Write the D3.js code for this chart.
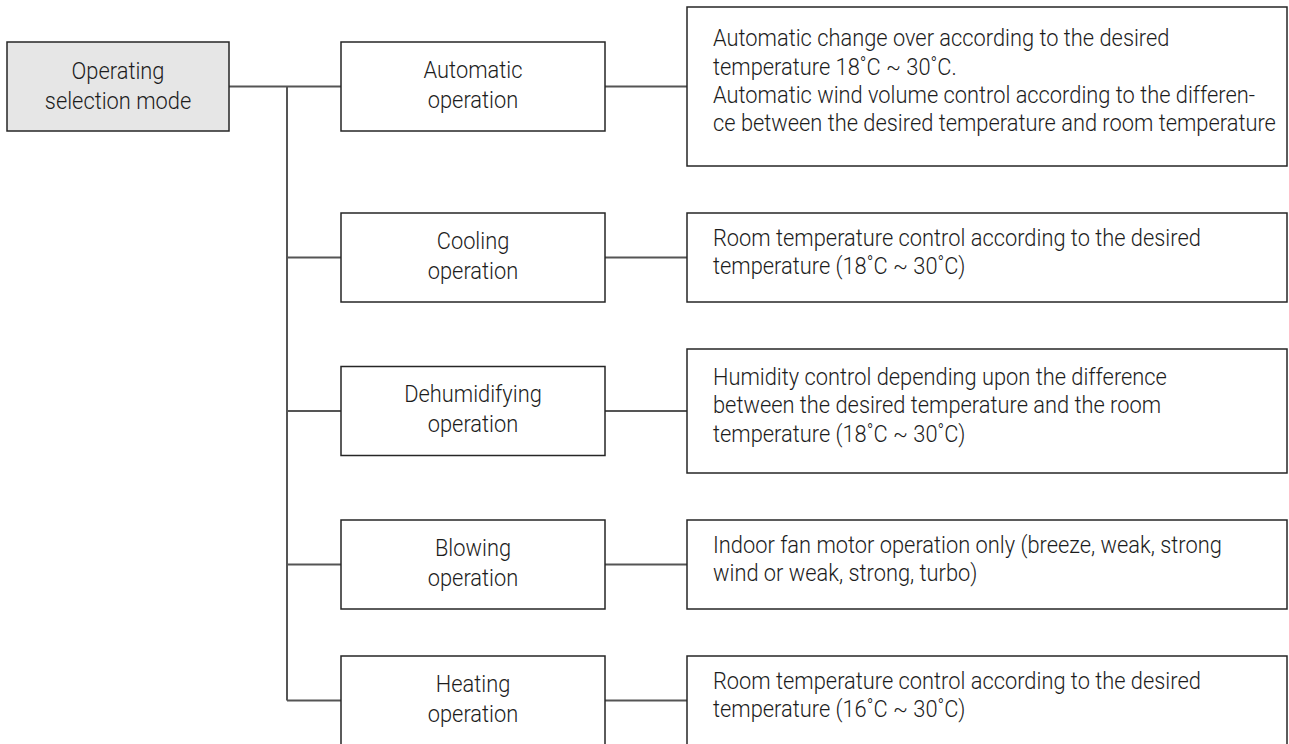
<!DOCTYPE html>
<html>
<head>
<meta charset="utf-8">
<script src="https://cdn.jsdelivr.net/npm/d3@7"></script>
<style>
  html, body { margin: 0; padding: 0; background: #fff; }
  svg { display: block; }
  text {
    font-family: Roboto, 'Liberation Sans', Arial, sans-serif;
    font-size: 23px;
    font-weight: 300;
    fill: #1c1c1c;
  }
</style>
</head>
<body>
<svg id="chart"></svg>
<script>
// chart content
const rootLabel = ['Operating', 'selection mode']

const modeLabels = [
  ['Automatic', 'operation'],
  ['Cooling', 'operation'],
  ['Dehumidifying', 'operation'],
  ['Blowing', 'operation'],
  ['Heating', 'operation']
]

const descLines = [
  [
    'Automatic change over according to the desired',
    'temperature 18˚C ~ 30˚C.',
    'Automatic wind volume control according to the differen-',
    'ce between the desired temperature and room temperature'
  ],
  [
    'Room temperature control according to the desired',
    'temperature (18˚C ~ 30˚C)'
  ],
  [
    'Humidity control depending upon the difference',
    'between the desired temperature and the room',
    'temperature (18˚C ~ 30˚C)'
  ],
  [
    'Indoor fan motor operation only (breeze, weak, strong',
    'wind or weak, strong, turbo)'
  ],
  [
    'Room temperature control according to the desired',
    'temperature (16˚C ~ 30˚C)'
  ]
]

// layout
const width = 1289
const height = 744
const rootX = 7
const rootW = 222
const trunkX = 287
const modeX = 341
const modeW = 264
const descX = 687
const descW = 600
const boxH = 89
const rowTop = 7
const rowGap = 47
const extraPerLine = 35
const descPadX = 26
const modeLineH = 30
const descLineH = 28.3
const capH = 16.5
const squeeze = 0.95 // the original face is a touch narrower than Roboto

const borderColor = '#262626'
const lineColor = '#555'

// stack rows top to bottom, each row as tall as its tallest box
let cursor = rowTop
const rows = modeLabels.map((label, i) => {
  const descH = boxH + Math.max(0, descLines[i].length - 2) * extraPerLine
  const rowH = Math.max(boxH, descH)
  const cy = cursor + rowH / 2
  cursor += rowH + rowGap
  return { label, desc: descLines[i], cy, descH }
})

const svg =
  d3.select('#chart')
    .attr('width', width)
    .attr('height', height)

// multi-line label, narrowed horizontally around its anchor x
function addLines (sel, x, lines, lineH, cy, shift) {
  const first = cy - (lines.length - 1) * lineH / 2 + capH / 2 + shift
  sel
    .attr('transform', `translate(${x}, 0) scale(${squeeze}, 1)`)
    .selectAll('tspan')
    .data(lines)
    .enter()
    .append('tspan')
      .attr('x', 0)
      .attr('y', (d, i) => first + i * lineH)
      .text(d => d)
}

// connectors
const links = svg.append('g')
  .attr('class', 'links')
  .attr('stroke', lineColor)
  .attr('stroke-width', 2)
  .attr('fill', 'none')

links.append('line')
  .attr('x1', rootX + rootW)
  .attr('x2', trunkX)
  .attr('y1', rows[0].cy)
  .attr('y2', rows[0].cy)

links.append('line')
  .attr('x1', trunkX)
  .attr('x2', trunkX)
  .attr('y1', rows[0].cy)
  .attr('y2', rows[rows.length - 1].cy)

links.selectAll('.branch')
  .data(rows)
  .enter()
  .append('line')
    .attr('class', 'branch')
    .attr('x1', trunkX)
    .attr('x2', modeX)
    .attr('y1', d => d.cy)
    .attr('y2', d => d.cy)

links.selectAll('.leaf')
  .data(rows)
  .enter()
  .append('line')
    .attr('class', 'leaf')
    .attr('x1', modeX + modeW)
    .attr('x2', descX)
    .attr('y1', d => d.cy)
    .attr('y2', d => d.cy)

// root box
const root = svg.append('g').attr('class', 'root')
root.append('rect')
  .attr('x', rootX)
  .attr('y', rows[0].cy - boxH / 2)
  .attr('width', rootW)
  .attr('height', boxH)
  .attr('fill', '#e6e6e6')
  .attr('stroke', borderColor)
  .attr('stroke-width', 1.5)
root.append('text')
  .attr('text-anchor', 'middle')
  .call(addLines, rootX + rootW / 2, rootLabel, modeLineH, rows[0].cy, -1)

// mode boxes
const modes =
  svg.selectAll('.mode')
    .data(rows)
    .enter()
    .append('g')
      .attr('class', 'mode')

modes.append('rect')
  .attr('x', modeX)
  .attr('y', d => d.cy - boxH / 2)
  .attr('width', modeW)
  .attr('height', boxH)
  .attr('fill', '#fff')
  .attr('stroke', borderColor)
  .attr('stroke-width', 1.5)

modes.append('text')
  .attr('text-anchor', 'middle')
  .each(function (d) {
    d3.select(this).call(addLines, modeX + modeW / 2, d.label, modeLineH, d.cy, -2)
  })

// description boxes
const descs =
  svg.selectAll('.desc')
    .data(rows)
    .enter()
    .append('g')
      .attr('class', 'desc')

descs.append('rect')
  .attr('x', descX)
  .attr('y', d => d.cy - d.descH / 2)
  .attr('width', descW)
  .attr('height', d => d.descH)
  .attr('fill', '#fff')
  .attr('stroke', borderColor)
  .attr('stroke-width', 1.5)

descs.append('text')
  .attr('text-anchor', 'start')
  .each(function (d) {
    d3.select(this).call(addLines, descX + descPadX, d.desc, descLineH, d.cy, -6)
  })
</script>
</body>
</html>
